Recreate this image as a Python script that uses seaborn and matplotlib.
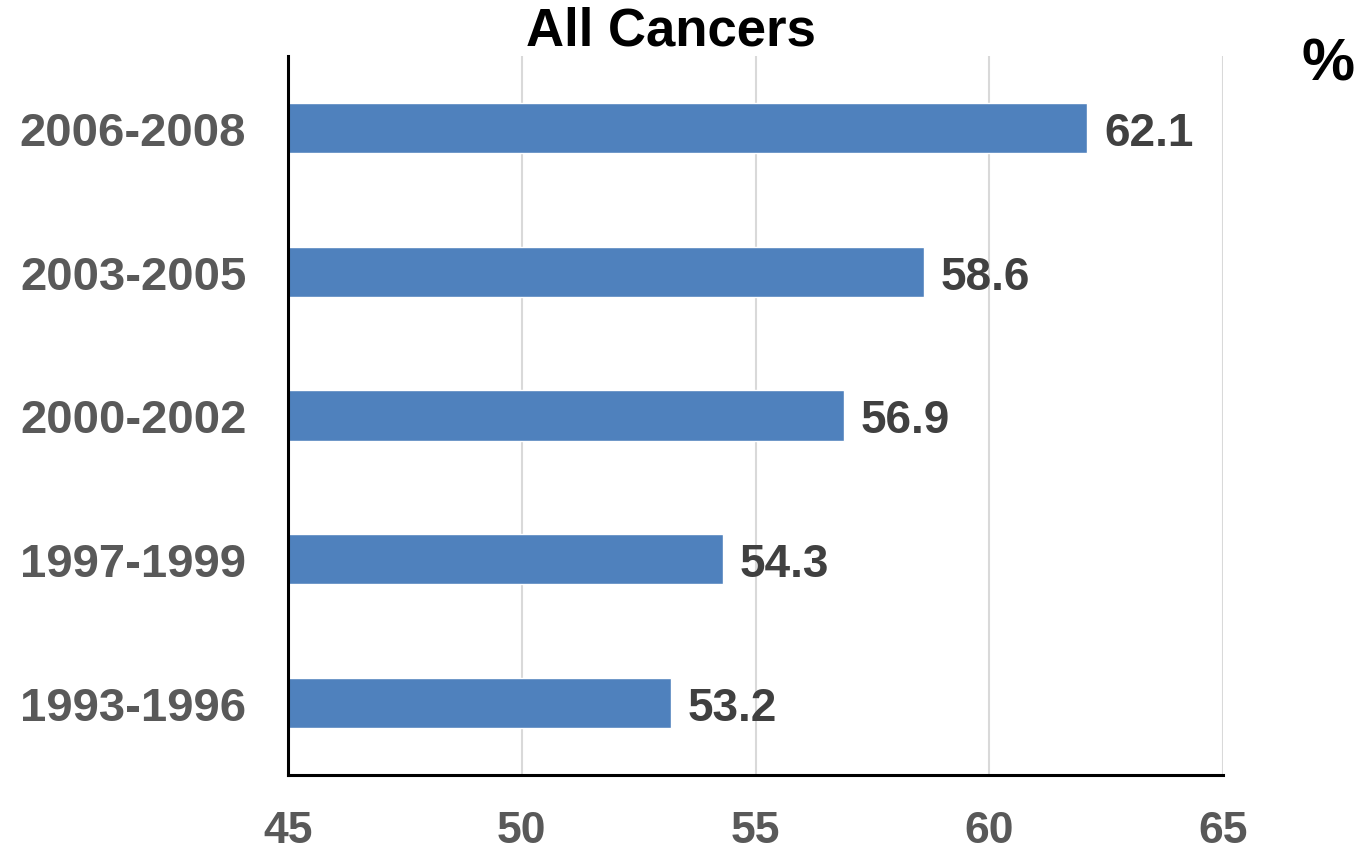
import matplotlib
matplotlib.use("Agg")
import matplotlib.pyplot as plt
import seaborn as sns
import pandas as pd

periods = ["2006-2008", "2003-2005", "2000-2002", "1997-1999", "1993-1996"]
survival = [62.1, 58.6, 56.9, 54.3, 53.2]
x_ticks = [45, 50, 55, 60, 65]

df = pd.DataFrame({"period": periods, "survival": survival})

sns.set_theme(style="white")
plt.rcParams["font.family"] = ["Liberation Sans", "DejaVu Sans"]

fig = plt.figure(figsize=(13.63, 8.54), dpi=100)
ax = fig.add_axes([288/1363, 1-776/854, (1223-288)/1363, (776-57)/854])

sns.barplot(data=df, x="survival", y="period", order=periods, orient="h",
            color="#4F81BD", saturation=1, width=0.35, ax=ax, zorder=3)

ax.set_xlim(45, 65)
ax.set_ylim(4.5, -0.5)
ax.set_xticks(x_ticks)
ax.set_xticklabels([str(t) for t in x_ticks])
ax.xaxis.grid(True, color="#D9D9D9", lw=1.5, zorder=0)
ax.set_axisbelow(True)
ax.set_xlabel(""); ax.set_ylabel("")

for s in ["top", "right"]:
    ax.spines[s].set_visible(False)
for s in ["left", "bottom"]:
    ax.spines[s].set_color("black")
    ax.spines[s].set_linewidth(2.2)
    ax.spines[s].set_zorder(4)

ax.tick_params(axis="both", length=0)
ax.tick_params(axis="x", pad=25, labelsize=32, labelcolor="#595959")
ax.tick_params(axis="y", pad=30, labelsize=34, labelcolor="#595959")
for lab in ax.get_xticklabels() + ax.get_yticklabels():
    lab.set_fontweight("bold")

vals = ax.bar_label(ax.containers[0], labels=[f"{v:.1f}" for v in survival], padding=12,
                    fontsize=33, fontweight="bold", color="#404040")
for t in vals:
    t.set_va("center_baseline")

fig.text(671/1363, 1-31/854, "All Cancers", ha="center", va="center",
         fontsize=38, fontweight="bold", color="black")
fig.text(1328/1363, 1-65/854, "%", ha="center", va="center",
         fontsize=43, fontweight="bold", color="black")

fig.savefig("out.png", dpi=100)
